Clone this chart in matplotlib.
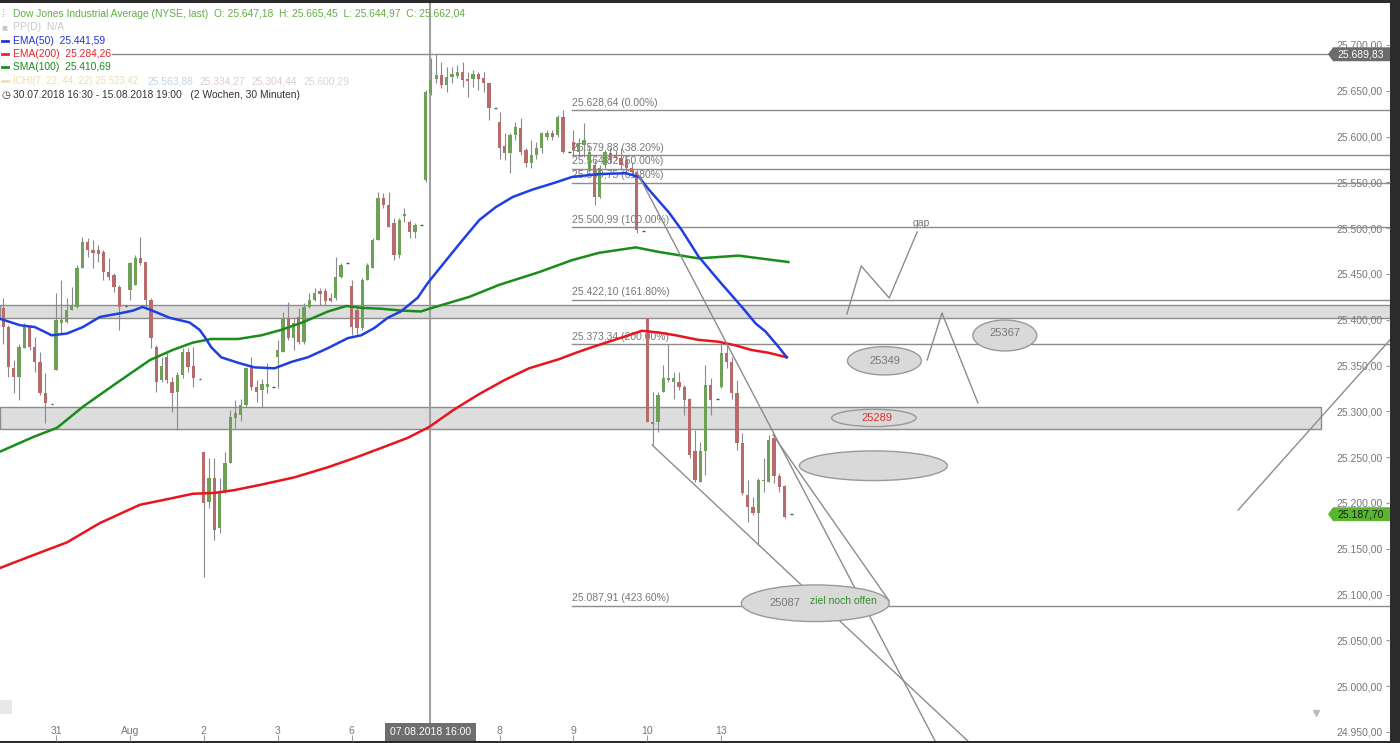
import numpy as np
import matplotlib.pyplot as plt
import matplotlib.transforms as mtransforms
from matplotlib.patches import Rectangle, Ellipse, Polygon
from matplotlib.lines import Line2D

plt.rcParams['font.family'] = ['Liberation Sans', 'DejaVu Sans']

# --------------------------------------------------------------------------- #
# Data: 30-minute bars, 30.07.2018 .. 13.08.2018 (bar index 0..149)
# --------------------------------------------------------------------------- #
OPEN = [25413, 25392, 25347, 25337, 25369, 25392, 25370, 25354, 25320, 25308,
        25345, 25396, 25398, 25411, 25414, 25457, 25485, 25476, 25476, 25474,
        25452, 25449, 25436, 25415, 25432, 25438, 25467, 25463, 25422, 25370,
        25334, 25359, 25332, 25321, 25340, 25365, 25350, 25335, 25256, 25201,
        25227, 25173, 25212, 25244, 25293, 25296, 25307, 25348, 25327, 25323,
        25327, 25327, 25359, 25365, 25402, 25380, 25403, 25376, 25414, 25422,
        25431, 25431, 25424, 25424, 25447, 25462, 25437, 25411, 25391, 25443,
        25457, 25487, 25533, 25525, 25506, 25471, 25513, 25507, 25496, 25503,
        25553, 25648, 25663, 25667, 25656, 25665, 25666, 25670, 25663, 25663,
        25668, 25664, 25658, 25631, 25616, 25590, 25582, 25602, 25609, 25585,
        25571, 25580, 25587, 25600, 25604, 25602, 25621, 25583, 25594, 25583,
        25591, 25563, 25569, 25534, 25569, 25582, 25580, 25577, 25574, 25566,
        25561, 25497, 25402, 25288, 25288, 25321, 25334, 25332, 25332, 25327,
        25314, 25257, 25223, 25257, 25329, 25313, 25327, 25364, 25354, 25320,
        25265, 25209, 25196, 25189, 25224, 25223, 25271, 25229, 25218, 25188]
HIGH = [25424, 25394, 25356, 25374, 25396, 25394, 25381, 25365, 25342, 25308,
        25429, 25443, 25424, 25436, 25460, 25490, 25489, 25487, 25482, 25476,
        25467, 25451, 25438, 25415, 25463, 25471, 25490, 25463, 25424, 25372,
        25359, 25364, 25337, 25343, 25369, 25369, 25370, 25335, 25256, 25249,
        25249, 25227, 25256, 25301, 25312, 25314, 25348, 25359, 25334, 25335,
        25353, 25327, 25378, 25408, 25419, 25402, 25413, 25418, 25429, 25435,
        25435, 25435, 25429, 25468, 25462, 25462, 25443, 25416, 25446, 25462,
        25489, 25539, 25538, 25539, 25511, 25511, 25522, 25509, 25506, 25503,
        25651, 25686, 25690, 25681, 25676, 25676, 25678, 25681, 25670, 25673,
        25670, 25670, 25658, 25631, 25627, 25604, 25604, 25616, 25620, 25587,
        25596, 25594, 25605, 25607, 25607, 25624, 25629, 25583, 25607, 25598,
        25615, 25591, 25574, 25569, 25585, 25587, 25585, 25588, 25580, 25572,
        25563, 25497, 25402, 25321, 25321, 25351, 25374, 25343, 25343, 25329,
        25315, 25280, 25266, 25351, 25336, 25313, 25374, 25374, 25359, 25334,
        25276, 25225, 25206, 25227, 25249, 25274, 25274, 25233, 25220, 25188]
LOW = [25374, 25337, 25320, 25312, 25369, 25367, 25343, 25318, 25287, 25308,
       25345, 25385, 25396, 25411, 25413, 25456, 25468, 25457, 25463, 25443,
       25443, 25430, 25389, 25415, 25422, 25438, 25460, 25414, 25369, 25321,
       25332, 25331, 25299, 25280, 25336, 25343, 25327, 25335, 25119, 25194,
       25160, 25167, 25211, 25244, 25282, 25290, 25305, 25323, 25310, 25305,
       25320, 25327, 25326, 25365, 25378, 25367, 25374, 25374, 25413, 25421,
       25416, 25416, 25419, 25422, 25446, 25462, 25383, 25383, 25389, 25443,
       25457, 25487, 25522, 25501, 25465, 25467, 25507, 25489, 25489, 25503,
       25550, 25645, 25659, 25653, 25649, 25659, 25664, 25654, 25643, 25654,
       25651, 25649, 25618, 25631, 25576, 25574, 25560, 25596, 25580, 25567,
       25566, 25576, 25582, 25596, 25596, 25600, 25582, 25583, 25580, 25580,
       25578, 25561, 25525, 25533, 25566, 25571, 25574, 25563, 25561, 25558,
       25495, 25497, 25288, 25263, 25277, 25321, 25332, 25314, 25323, 25296,
       25249, 25223, 25223, 25230, 25296, 25313, 25325, 25347, 25314, 25258,
       25209, 25179, 25187, 25154, 25212, 25223, 25222, 25212, 25184, 25188]
CLOSE = [25392, 25348, 25337, 25370, 25392, 25370, 25354, 25320, 25309, 25308,
         25400, 25400, 25411, 25416, 25457, 25485, 25476, 25473, 25472, 25452,
         25447, 25436, 25414, 25415, 25462, 25467, 25462, 25422, 25380, 25332,
         25350, 25334, 25320, 25340, 25365, 25348, 25336, 25335, 25200, 25227,
         25170, 25212, 25244, 25294, 25298, 25307, 25347, 25327, 25321, 25330,
         25330, 25327, 25367, 25402, 25380, 25396, 25376, 25414, 25422, 25429,
         25428, 25421, 25421, 25447, 25460, 25462, 25392, 25391, 25443, 25460,
         25487, 25533, 25525, 25501, 25471, 25509, 25515, 25496, 25503, 25503,
         25649, 25662, 25667, 25656, 25665, 25668, 25670, 25662, 25661, 25668,
         25663, 25658, 25631, 25631, 25587, 25582, 25602, 25610, 25583, 25571,
         25580, 25588, 25604, 25604, 25600, 25621, 25583, 25583, 25585, 25593,
         25596, 25583, 25534, 25566, 25583, 25574, 25577, 25569, 25566, 25561,
         25498, 25497, 25288, 25286, 25318, 25336, 25336, 25336, 25327, 25312,
         25252, 25225, 25257, 25329, 25312, 25313, 25364, 25354, 25320, 25265,
         25211, 25196, 25189, 25225, 25225, 25269, 25229, 25217, 25185, 25188]

# moving averages at these bar positions
EMA50_X = [-0.6, 3.2, 6.0, 9.2, 12.1, 15.1, 18.3, 22.1, 24.6, 26.4, 27.8, 31.6,
           35.3, 37.2, 38.2, 39.4, 41.3, 44.5, 47.6, 51.4, 54.6, 57.7, 61.5,
           65.3, 67.8, 70.3, 72.8, 75.3, 78.5, 80.4, 83.9, 87.0, 90.2, 93.3,
           96.5, 100.2, 104.7, 107.8, 112.8, 117.9, 120.4, 122.3, 126.1, 128.5,
           131.7, 135.5, 139.9, 142.5, 144.4, 146.9, 148.4]
EMA50_Y = [25401, 25394, 25392, 25383, 25385, 25392, 25403, 25407, 25410, 25414,
           25411, 25402, 25397, 25389, 25381, 25370, 25359, 25353, 25348, 25347,
           25354, 25359, 25369, 25380, 25383, 25391, 25402, 25409, 25424, 25440,
           25465, 25487, 25509, 25523, 25534, 25542, 25550, 25556, 25559, 25560,
           25556, 25542, 25517, 25498, 25469, 25443, 25414, 25396, 25387, 25370,
           25359]
SMA100_X = [-0.6, 5.7, 10.2, 15.1, 21.5, 27.8, 32.1, 35.9, 39.4, 44.5, 48.9,
            52.7, 57.1, 61.5, 65.0, 67.8, 71.6, 75.4, 79.1, 80.7, 88.3, 93.9,
            101.5, 107.7, 112.8, 119.8, 124.2, 131.7, 139.3, 148.7]
SMA100_Y = [25256, 25272, 25282, 25305, 25331, 25356, 25367, 25375, 25379, 25379,
            25383, 25389, 25398, 25409, 25415, 25413, 25412, 25410, 25409, 25412,
            25425, 25438, 25452, 25465, 25473, 25479, 25474, 25467, 25470, 25463]
EMA200_X = [-0.6, 5.7, 12.1, 18.3, 25.9, 31.0, 35.9, 40.1, 43.8, 48.9, 55.2,
            61.5, 66.5, 71.6, 76.6, 80.7, 85.4, 90.2, 94.9, 99.6, 105.3, 108.5,
            111.5, 114.7, 117.9, 121.0, 124.2, 127.4, 131.7, 135.5, 138.7, 141.7,
            144.9, 148.4]
EMA200_Y = [25129, 25143, 25157, 25178, 25198, 25204, 25210, 25211, 25214, 25220,
            25228, 25239, 25249, 25260, 25271, 25283, 25302, 25319, 25334, 25347,
            25357, 25364, 25370, 25376, 25382, 25388, 25386, 25383, 25378, 25376,
            25372, 25367, 25364, 25359]

DAY_TICKS = [10, 24, 38, 52, 66, 94, 108, 122, 136]
DAY_LABELS = ['31', 'Aug', '2', '3', '6', '8', '9', '10', '13']
CROSS_BAR = 80.8
CROSS_LABEL = '07.08.2018 16:00'

FIB_PRICES = [25628.64, 25579.88, 25564.82, 25549.75, 25500.99, 25422.10,
              25373.34, 25087.91]
FIB_PCT = ['0.00%', '38.20%', '50.00%', '61.80%', '100.00%', '161.80%',
           '200.00%', '423.60%']

ZONES = [(25401.9, 25416.1), (25280.2, 25304.8)]
HIGH_LINE = 25689.83
LAST_PRICE = 25187.70

GREEN_C = '#6fa05a'
RED_C = '#b86b6d'
GRAY_L = '#8c8c8c'


def de(v):
    return f"{v:,.2f}".replace(',', 'X').replace('.', ',').replace('X', '.')


# --------------------------------------------------------------------------- #
fig = plt.figure(figsize=(14, 7.43), dpi=100, facecolor='#2b2b2b')
ax = fig.add_axes([0, 2 / 743, 1390 / 1400, 738 / 743])
ax.set_facecolor('white')
X0, X1 = -0.6, 262.65
ax.set_xlim(X0, X1)
ax.set_ylim(24940.1, 25745.8)
for s in ax.spines.values():
    s.set_visible(False)

# support zones
ax.add_patch(Rectangle((X0, ZONES[0][0]), X1 - X0, ZONES[0][1] - ZONES[0][0],
                       facecolor='#dddddd', edgecolor=GRAY_L, lw=1, zorder=1))
ax.add_patch(Rectangle((X0, ZONES[1][0]), 249.5 - X0, ZONES[1][1] - ZONES[1][0],
                       facecolor='#dddddd', edgecolor=GRAY_L, lw=1, zorder=1))

# fibonacci levels
for p, pct in zip(FIB_PRICES, FIB_PCT):
    ax.plot([107.7, X1], [p, p], color=GRAY_L, lw=1, zorder=2)
    ax.text(107.7, p + 2.5, f"{de(p)} ({pct})", fontsize=7.5, color='#777777',
            ha='left', va='bottom', zorder=2)

# crosshair + high line
ax.axvline(CROSS_BAR, color='#a0a0a0', lw=1.5, zorder=2)
ax.axhline(HIGH_LINE, xmin=112 / 1390, color=GRAY_L, lw=1, zorder=2)

# candles
idx = np.arange(len(CLOSE))
o, h, l, c = map(np.array, (OPEN, HIGH, LOW, CLOSE))
up, down, flat = c > o, c < o, c == o
ax.vlines(idx[~flat], l[~flat], h[~flat], color='#8a8a8a', lw=0.8, zorder=3)
lo = np.minimum(o, c)
hh = np.maximum(np.abs(c - o), 1.2)
ax.bar(idx[up], hh[up], bottom=lo[up], width=0.62, color=GREEN_C, zorder=4)
ax.bar(idx[down], hh[down], bottom=lo[down], width=0.62, color=RED_C, zorder=4)
ax.hlines(c[flat], idx[flat], idx[flat] + 0.5, color='#555555', lw=1, zorder=4)

# moving averages
ax.plot(SMA100_X, SMA100_Y, color='#1a8c1a', lw=1.8, zorder=5)
ax.plot(EMA200_X, EMA200_Y, color='#e8141e', lw=1.8, zorder=5)
ax.plot(EMA50_X, EMA50_Y, color='#1f3fe0', lw=1.8, zorder=5)

# hand drawn trend lines
for xs, ys in [([120.0, 176.5], [25561.3, 24940.1]),
               ([145.8, 167.8], [25274.2, 25093.0]),
               ([122.9, 182.7], [25263.3, 24940.1]),
               ([159.8, 162.5, 167.8, 173.1], [25406.3, 25458.7, 25423.8, 25495.8]),
               ([175.0, 177.8, 184.6], [25356.1, 25407.4, 25309.2]),
               ([233.9, 262.65], [25192.3, 25378.0])]:
    ax.plot(xs, ys, color=GRAY_L, lw=1, zorder=6)

# target ellipses
ell_face, ell_edge = '#d9d9d9', '#999999'
for (cx, cy, w, hgt) in [(166.9, 25355.2, 14.0, 30.9), (189.7, 25382.8, 12.1, 33.8),
                         (164.9, 25292.8, 16.0, 18.9), (164.8, 25240.6, 28.0, 32.4),
                         (153.8, 25090.5, 28.0, 40.0)]:
    ax.add_patch(Ellipse((cx, cy), w, hgt, facecolor=ell_face, edgecolor=ell_edge,
                         lw=1, zorder=6))
ax.text(166.9, 25355.2, '25349', fontsize=8, color='#777777', ha='center', va='center', zorder=7)
ax.text(189.7, 25385.0, '25367', fontsize=8, color='#777777', ha='center', va='center', zorder=7)
ax.text(165.5, 25292.8, '25289', fontsize=8, color='#e03030', ha='center', va='center', zorder=7)
ax.text(148.1, 25090.5, '25087', fontsize=8, color='#7a7a7a', ha='center', va='center', zorder=7)
ax.text(159.1, 25093.0, 'ziel noch offen', fontsize=7.5, color='#2f8f2f', ha='center',
        va='center', zorder=7)
ax.text(173.8, 25506.0, 'gap', fontsize=7.5, color='#777777', ha='center', va='center', zorder=7)

# axes ticks
YT = np.arange(24950, 25701, 50)
ax.yaxis.tick_right()
ax.set_yticks(YT)
ax.set_yticklabels([de(v) for v in YT], ha='right')
ax.tick_params(axis='y', direction='in', length=3, pad=-5, labelsize=7.5,
               labelcolor='#777777', color='#999999')
ax.set_xticks(DAY_TICKS, DAY_LABELS)
ax.tick_params(axis='x', direction='in', length=4, pad=-11, labelsize=7.5,
               labelcolor='#777777', color='#999999')

# price tags on the right axis
bt = mtransforms.blended_transform_factory(ax.transAxes, ax.transData)
for price, face, tcol in [(HIGH_LINE, '#6b6b6b', 'white'), (LAST_PRICE, '#5cb531', '#102010')]:
    hp = 7.6
    ax.add_patch(Polygon([(1.0, price + hp), (1333 / 1390, price + hp), (1328 / 1390, price),
                          (1333 / 1390, price - hp), (1.0, price - hp)], closed=True,
                         transform=bt, facecolor=face, edgecolor='none', zorder=8,
                         clip_on=False))
    ax.text(1361 / 1390, price, de(price), transform=bt, fontsize=7.5, color=tcol,
            ha='center', va='center', zorder=9)

# crosshair date label
bx = mtransforms.blended_transform_factory(ax.transData, ax.transAxes)
ax.add_patch(Rectangle((72.3, 0), 89.5 - 72.3, 18 / 738, transform=bx,
                       facecolor='#6e6e6e', edgecolor='none', zorder=8))
ax.text(80.9, 9 / 738, CROSS_LABEL, transform=bx, fontsize=7.5, color='white',
        ha='center', va='center', zorder=9)

# small ui icons
ax.add_patch(Rectangle((0, 27 / 738), 12 / 1390, 14 / 738, transform=ax.transAxes,
                       facecolor='#e8e8e8', edgecolor='none', zorder=8))
ax.plot([1316 / 1390], [28 / 738], marker='v', ms=5, color='#bdbdbd',
        transform=ax.transAxes, zorder=8)


# --------------------------------------------------------------------------- #
# legend block (figure pixel coordinates)
def ftxt(xp, yp, s, color, size=7.4):
    fig.text(xp / 1400, 1 - yp / 743, s, color=color, fontsize=size,
             ha='left', va='center')


def fdash(yp, color):
    fig.add_artist(Line2D([2 / 1400, 8 / 1400], [1 - yp / 743] * 2, color=color,
                          lw=2, transform=fig.transFigure))


ftxt(1, 14, '⁞', '#62ad43', 7)
ftxt(12.7, 14, 'Dow Jones Industrial Average (NYSE, last)  O: 25.647,18  H: 25.665,45  '
     'L: 25.644,97  C: 25.662,04', '#62ad43')
ftxt(1, 27, '■', '#c8c8c8', 7)
ftxt(12.7, 27, 'PP(D)  N/A', '#c8c8c8')
fdash(41, '#2233dd')
ftxt(12.7, 41, 'EMA(50)  25.441,59', '#2233dd')
fdash(54, '#e8242c')
ftxt(12.7, 54, 'EMA(200)  25.284,26', '#e8242c')
fdash(67, '#1a8c1a')
ftxt(12.7, 67, 'SMA(100)  25.410,69', '#1a8c1a')
fdash(81, '#f4dfb5')
ftxt(12.7, 81, 'ICHI(7, 22, 44, 22) 25.523,42', '#f2dcb0', 7.0)
ftxt(148, 81, '25.563,88', '#b8d6ee')
ftxt(200, 81, '25.334,27', '#dccbd3')
ftxt(252, 81, '25.304,44', '#dccbd3')
ftxt(303, 81, '25.600,29', '#d6d6d6')
ftxt(1, 95, '◷', '#333333', 7.5)
ftxt(12.7, 95, '30.07.2018 16:30 - 15.08.2018 19:00   (2 Wochen, 30 Minuten)', '#333333')

fig.savefig('out.png', dpi=100, facecolor=fig.get_facecolor())
